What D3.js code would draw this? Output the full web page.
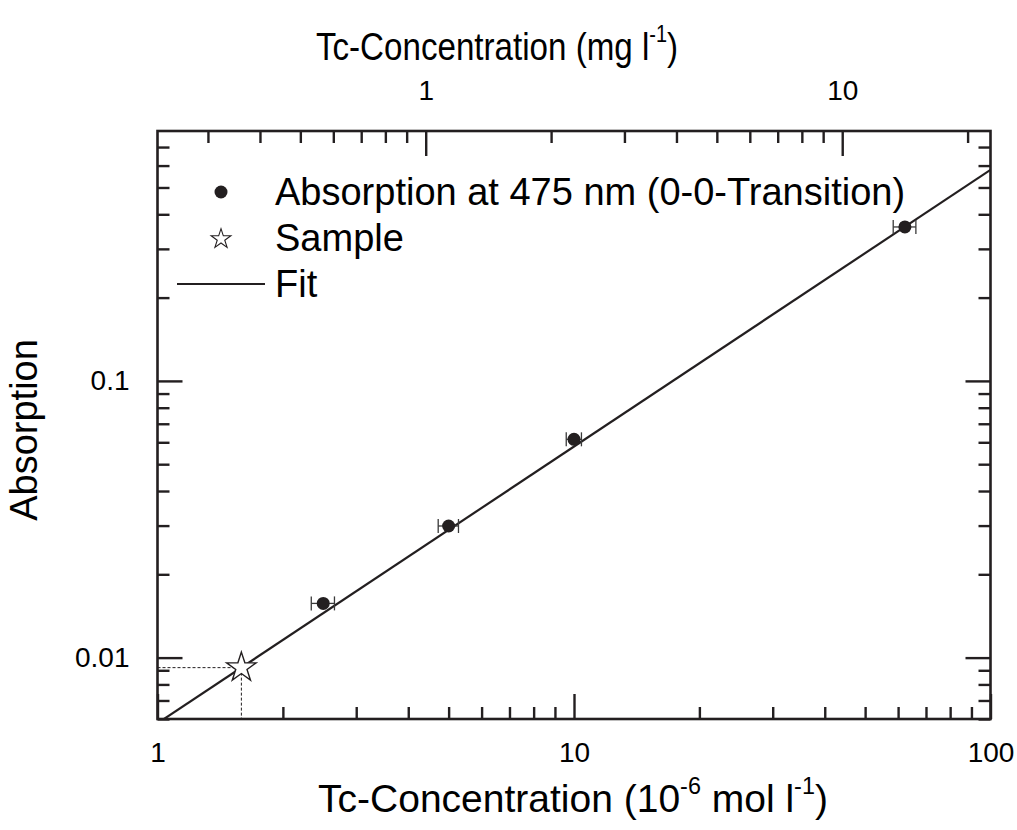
<!DOCTYPE html>
<html>
<head>
<meta charset="utf-8">
<script src="https://cdn.jsdelivr.net/npm/d3@7"></script>
<style>
  html, body { margin: 0; padding: 0; background: #fff; }
  svg { display: block; font-family: "Liberation Sans", Arial, Helvetica, sans-serif; }
</style>
</head>
<body>
<svg id="chart" width="1017" height="830"></svg>
<script>
// Calibration: absorption at 475 nm vs Tc concentration (µmol/l)
const concentration = [2.5, 5, 10, 62.3];
const absorption    = [0.0157, 0.0299, 0.0615, 0.36];
const concError     = [0.16, 0.28, 0.42, 3.9];

// Unknown sample
const sampleConc = [1.59];
const sampleAbs  = [0.0092];

// Linear fit A = k * c
const fitSlope = 0.00579;
const fitRange = [1, 100];

// conversion µmol/l -> mg/l used for the top axis
const mgPerMicromol = 0.227;

// Axis ticks
const bottomMajor = [1, 10, 100];
const bottomMinor = [2, 3, 4, 5, 6, 7, 8, 9, 20, 30, 40, 50, 60, 70, 80, 90];
const topMajor = [1, 10];
const topMinor = [0.3, 0.4, 0.5, 0.6, 0.7, 0.8, 0.9, 2, 3, 4, 5, 6, 7, 8, 9, 20];
const yMajor = [0.01, 0.1];
const yMinor = [0.006, 0.007, 0.008, 0.009, 0.02, 0.03, 0.04, 0.05, 0.06, 0.07, 0.08, 0.09,
                0.2, 0.3, 0.4, 0.5, 0.6, 0.7];

const legendItems = ["Absorption at 475 nm (0-0-Transition)", "Sample", "Fit"];

const ink = "#231f20";
const L = 157.5, R = 990.5, T = 131, B = 719;

const svg = d3.select("#chart");

const x = d3.scaleLog().domain([1, 100]).range([L, R]);
const xTop = d3.scaleLog().domain([1 * mgPerMicromol, 100 * mgPerMicromol]).range([L, R]);
const y = d3.scaleLog().domain([0.006, 0.8]).range([B, T]);

svg.append("defs").append("clipPath").attr("id", "plot-clip")
  .append("rect").attr("x", L).attr("y", T).attr("width", R - L).attr("height", B - T);

// Fit line
const fitLine = d3.line().x(d => x(d)).y(d => y(fitSlope * d));
svg.append("path")
  .attr("clip-path", "url(#plot-clip)")
  .attr("d", fitLine(fitRange))
  .attr("fill", "none").attr("stroke", ink).attr("stroke-width", 2.2);

// Dashed guides from the sample to the axes
const sg = svg.append("g").attr("stroke", ink).attr("stroke-width", 1).attr("stroke-dasharray", "3,2");
sampleConc.forEach((c, i) => {
  sg.append("line").attr("x1", L).attr("x2", x(c)).attr("y1", y(sampleAbs[i])).attr("y2", y(sampleAbs[i]));
  sg.append("line").attr("x1", x(c)).attr("x2", x(c)).attr("y1", y(sampleAbs[i])).attr("y2", B);
});

// Error bars
const eb = svg.append("g").attr("stroke", "#3a3a3a").attr("stroke-width", 1.3);
concentration.forEach((c, i) => {
  const yy = y(absorption[i]);
  const x0 = x(c - concError[i]), x1 = x(c + concError[i]);
  eb.append("line").attr("x1", x0).attr("x2", x1).attr("y1", yy).attr("y2", yy);
  eb.append("line").attr("x1", x0).attr("x2", x0).attr("y1", yy - 7).attr("y2", yy + 7);
  eb.append("line").attr("x1", x1).attr("x2", x1).attr("y1", yy - 7).attr("y2", yy + 7);
});

// Data points
svg.append("g").selectAll("circle").data(concentration).join("circle")
  .attr("cx", d => x(d)).attr("cy", (d, i) => y(absorption[i])).attr("r", 6.5)
  .attr("fill", ink);

// Sample star
const star = d3.symbol().type(d3.symbolStar);
svg.append("g").selectAll("path").data(sampleConc).join("path")
  .attr("transform", (d, i) => `translate(${x(d)},${y(sampleAbs[i])})`)
  .attr("d", star.size(270)())
  .attr("fill", "#fff").attr("stroke", ink).attr("stroke-width", 1.4);

// Axes (ticks pointing inward)
function styleAxis(g) {
  g.select(".domain").remove();
  g.selectAll(".tick line").attr("stroke", ink).attr("stroke-width", 2.4);
  g.selectAll(".tick text").attr("fill", "#000").attr("font-size", 28)
    .attr("font-family", "'Liberation Sans', Arial, sans-serif");
}
const noLabel = () => "";
const fmt = d => String(d);

svg.append("g").attr("transform", `translate(0,${B})`)
  .call(d3.axisBottom(x).tickValues(bottomMinor).tickSize(-12).tickFormat(noLabel)).call(styleAxis);
svg.append("g").attr("transform", `translate(0,${B})`)
  .call(d3.axisBottom(x).tickValues(bottomMajor).tickSize(-25).tickPadding(23).tickFormat(fmt)).call(styleAxis);

svg.append("g").attr("transform", `translate(0,${T})`)
  .call(d3.axisTop(xTop).tickValues(topMinor).tickSize(-12).tickFormat(noLabel)).call(styleAxis);
svg.append("g").attr("transform", `translate(0,${T})`)
  .call(d3.axisTop(xTop).tickValues(topMajor).tickSize(-25).tickPadding(31).tickFormat(fmt)).call(styleAxis);

svg.append("g").attr("transform", `translate(${L},0)`)
  .call(d3.axisLeft(y).tickValues(yMinor).tickSize(-12).tickFormat(noLabel)).call(styleAxis);
svg.append("g").attr("transform", `translate(${L},0)`)
  .call(d3.axisLeft(y).tickValues(yMajor).tickSize(-25).tickPadding(28).tickFormat(fmt)).call(styleAxis);

svg.append("g").attr("transform", `translate(${R},0)`)
  .call(d3.axisRight(y).tickValues(yMinor).tickSize(-12).tickFormat(noLabel)).call(styleAxis);
svg.append("g").attr("transform", `translate(${R},0)`)
  .call(d3.axisRight(y).tickValues(yMajor).tickSize(-25).tickFormat(noLabel)).call(styleAxis);

// Frame
svg.append("rect").attr("x", L).attr("y", T).attr("width", R - L).attr("height", B - T)
  .attr("fill", "none").attr("stroke", ink).attr("stroke-width", 2.6);

// Axis titles
function titleWithSup(sel, parts) {
  parts.forEach(p => {
    if (p.sup) {
      sel.append("tspan").attr("font-size", "0.6em").attr("dy", "-0.75em").text(p.t);
    } else if (p.after) {
      sel.append("tspan").attr("dy", "0.45em").text(p.t);
    } else {
      sel.append("tspan").text(p.t);
    }
  });
}

const bt = svg.append("text").attr("x", 573).attr("y", 812).attr("text-anchor", "middle")
  .attr("font-size", 39).attr("fill", "#000");
titleWithSup(bt, [{t: "Tc-Concentration (10"}, {t: "-6", sup: true}, {t: " mol l", after: true},
                  {t: "-1", sup: true}, {t: ")", after: true}]);

// top title is set in a narrower run of the same face
const tt = svg.append("text").attr("transform", "translate(497,60) scale(0.85,1)")
  .attr("text-anchor", "middle").attr("font-size", 39).attr("fill", "#000");
titleWithSup(tt, [{t: "Tc-Concentration (mg l"}, {t: "-1", sup: true}, {t: ")", after: true}]);

svg.append("text").attr("transform", "translate(37,430) rotate(-90)").attr("text-anchor", "middle")
  .attr("font-size", 38).attr("fill", "#000").text("Absorption");

// Legend
const lg = svg.append("g").attr("font-size", 38).attr("fill", "#000");
lg.append("circle").attr("cx", 221).attr("cy", 192).attr("r", 6.5).attr("fill", ink);
lg.append("path").attr("transform", "translate(221,239)").attr("d", star.size(120)())
  .attr("fill", "#fff").attr("stroke", ink).attr("stroke-width", 1.1);
lg.append("line").attr("x1", 177).attr("x2", 265).attr("y1", 284).attr("y2", 284)
  .attr("stroke", ink).attr("stroke-width", 2.2);
const legendBaselines = [205, 251, 297];
lg.selectAll("text").data(legendItems).join("text")
  .attr("x", 275).attr("y", (d, i) => legendBaselines[i]).text(d => d);
</script>
</body>
</html>
